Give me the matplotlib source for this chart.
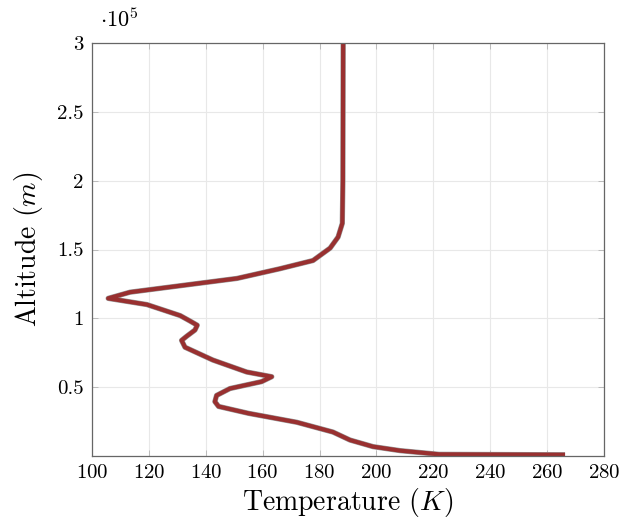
import matplotlib
matplotlib.use("Agg")
import matplotlib.pyplot as plt
import matplotlib.patheffects as pe
from matplotlib.ticker import FuncFormatter, MultipleLocator

# Temperature profile (bottom -> top)
temperature_K = [266.3, 222, 208.3, 198.8, 190.7, 184.7, 172, 155, 144.5, 143.2,
                 143.8, 148.5, 159.6, 163.2, 154.4, 142.5, 132.7, 131.5, 133.3,
                 136.2, 137, 134.5, 131, 119.3, 105.7, 113.4, 151, 166, 177.7,
                 183.7, 186.5, 188, 188.2, 188.3]
altitude_m = [900, 1200, 3900, 6800, 11600, 17400, 24500, 31000, 36000, 39500,
              44000, 49000, 54000, 57600, 61000, 69700, 79000, 84000, 87000,
              91500, 95000, 98000, 102000, 110000, 114500, 119000, 129000, 136000,
              142000, 151000, 159000, 169000, 200000, 300000]

plt.rcParams['font.family'] = ['cmr10', 'DejaVu Serif']
plt.rcParams['mathtext.fontset'] = 'cm'
plt.rcParams['axes.unicode_minus'] = False
plt.rcParams['axes.formatter.use_mathtext'] = True

fig = plt.figure(figsize=(6.24, 5.29), dpi=100)
ax = fig.add_axes([0.1474, 0.138, 0.8206, 0.7807])

ax.plot(temperature_K, altitude_m, color='#993030', linewidth=3.0,
        solid_joinstyle='round', solid_capstyle='butt',
        path_effects=[pe.Stroke(linewidth=3.8, foreground='#999999'), pe.Normal()])

ax.set_xlim(100, 280)
ax.set_ylim(0, 3e5)
ax.xaxis.set_major_locator(MultipleLocator(20))
ax.yaxis.set_major_locator(MultipleLocator(5e4))
ax.yaxis.set_major_formatter(FuncFormatter(
    lambda v, p: '' if v == 0 else ('%g' % (v / 1e5))))

ax.grid(True, color='#e8e8e8', linewidth=0.8)
ax.set_axisbelow(True)
for s in ax.spines.values():
    s.set_color('#666666')
    s.set_linewidth(0.9)
ax.tick_params(direction='in', length=4, width=0.7, color='#bbbbbb',
               labelsize=15, top=True, right=True, pad=6)

ax.set_xlabel('Temperature ($K$)', fontsize=20, labelpad=3)
ax.set_ylabel('Altitude ($m$)', fontsize=20, labelpad=9)
ax.text(0.015, 1.03, r'$\cdot 10^5$', transform=ax.transAxes, fontsize=16,
        ha='left', va='bottom')

fig.savefig('out.png', dpi=100)
